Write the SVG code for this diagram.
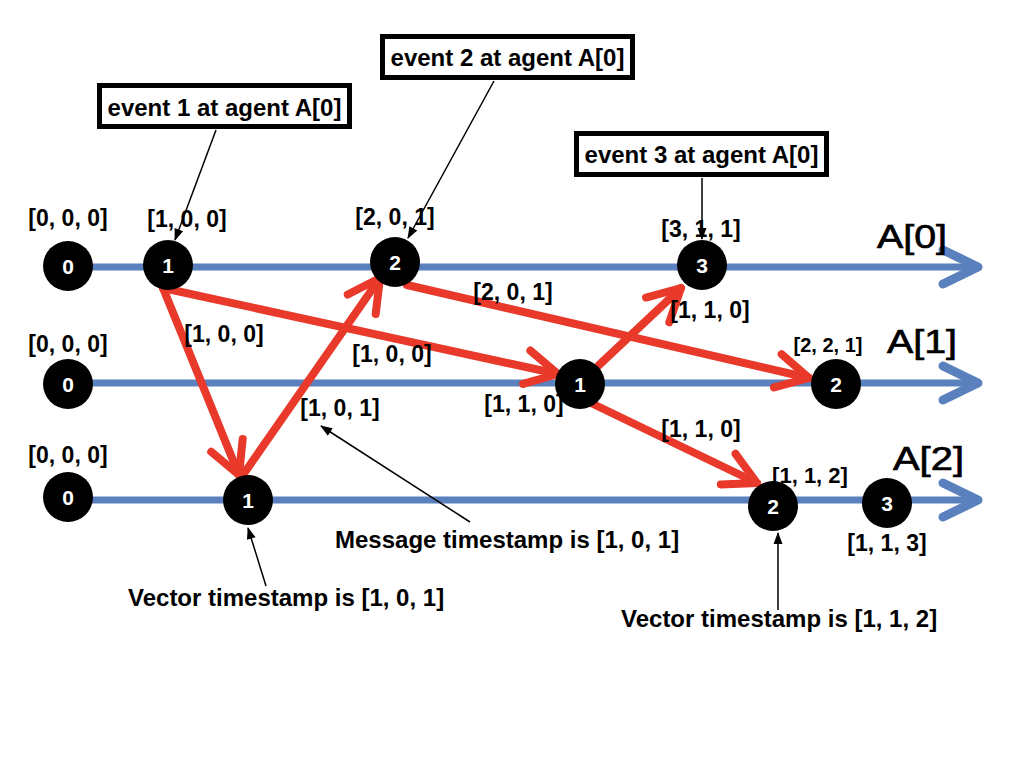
<svg xmlns="http://www.w3.org/2000/svg" width="1024" height="768" viewBox="0 0 1024 768">
<defs>
<style>
.tl{stroke:#5b80be;stroke-width:7;fill:none}
.msg{stroke:#e8392a;stroke-width:8;fill:none;stroke-linecap:round}
.ptr{stroke:#000;stroke-width:1.5;fill:none}
.node circle{fill:#000}
.node text{fill:#fff;font-family:"Liberation Sans",Arial,sans-serif;font-weight:bold;font-size:21px;text-anchor:middle}
.ts{font-family:"Liberation Sans",Arial,sans-serif;font-weight:bold;font-size:23px;fill:#000;text-anchor:middle}
.note{font-family:"Liberation Sans",Arial,sans-serif;font-weight:bold;font-size:24px;fill:#000}
.box rect{fill:#fff;stroke:#000;stroke-width:5}
.box text{font-family:"Liberation Sans",Arial,sans-serif;font-weight:bold;font-size:24px;fill:#000;text-anchor:middle}
.agent{font-family:"Liberation Sans",Arial,sans-serif;font-size:34px;fill:#000;stroke:#000;stroke-width:0.7}
</style>
<marker id="redHead" markerUnits="userSpaceOnUse" viewBox="-40 -24 48 48" markerWidth="48" markerHeight="48" refX="0" refY="0" orient="auto" overflow="visible">
<path d="M-32,-17 L0,0 L-32,17" fill="none" stroke="#e8392a" stroke-width="8" stroke-linecap="round" stroke-linejoin="round"/>
</marker>
<marker id="blueHead" markerUnits="userSpaceOnUse" viewBox="-44 -24 52 48" markerWidth="52" markerHeight="48" refX="0" refY="0" orient="auto" overflow="visible">
<path d="M-35,-17 L0,0 L-35,17" fill="none" stroke="#5b80be" stroke-width="9" stroke-linecap="round" stroke-linejoin="round"/>
</marker>
<marker id="blackHead" markerUnits="userSpaceOnUse" viewBox="-12 -6 14 12" markerWidth="14" markerHeight="12" refX="0" refY="0" orient="auto" overflow="visible">
<path d="M1,0 L-11,-4.5 L-11,4.5 z" fill="#000"/>
</marker>
</defs>
<rect width="1024" height="768" fill="#fff"/>

<g id="timelines">
<line class="tl" x1="68" y1="267" x2="978" y2="267" marker-end="url(#blueHead)"/>
<line class="tl" x1="68" y1="383" x2="978" y2="383" marker-end="url(#blueHead)"/>
<line class="tl" x1="68" y1="500" x2="978" y2="500" marker-end="url(#blueHead)"/>
</g>

<g id="connectors">
<line class="msg" x1="163" y1="288" x2="558" y2="374" marker-end="url(#redHead)"/>
<line class="msg" x1="163" y1="288" x2="239" y2="475" marker-end="url(#redHead)"/>
<line class="msg" x1="245" y1="472" x2="380" y2="278" marker-end="url(#redHead)"/>
<line class="msg" x1="407" y1="285" x2="809" y2="378" marker-end="url(#redHead)"/>
<line class="msg" x1="598" y1="366" x2="681" y2="288" marker-end="url(#redHead)"/>
<line class="msg" x1="591" y1="403" x2="757" y2="483" marker-end="url(#redHead)"/>
<line class="ptr" x1="216" y1="130" x2="175" y2="240" marker-end="url(#blackHead)"/>
<line class="ptr" x1="494" y1="81" x2="408" y2="238" marker-end="url(#blackHead)"/>
<line class="ptr" x1="702" y1="178" x2="702" y2="239" marker-end="url(#blackHead)"/>
<line class="ptr" x1="470" y1="522" x2="321" y2="426" marker-end="url(#blackHead)"/>
<line class="ptr" x1="266" y1="586" x2="248" y2="528" marker-end="url(#blackHead)"/>
<line class="ptr" x1="778" y1="610" x2="778" y2="533" marker-end="url(#blackHead)"/>
</g>

<g id="a0-e0" class="node"><circle cx="68" cy="266" r="25"/><text x="68" y="274">0</text></g>
<g id="a0-e1" class="node"><circle cx="168" cy="265" r="25"/><text x="168" y="273">1</text></g>
<g id="a0-e2" class="node"><circle cx="395" cy="262" r="25"/><text x="395" y="270">2</text></g>
<g id="a0-e3" class="node"><circle cx="702" cy="265" r="25"/><text x="702" y="273">3</text></g>
<g id="a1-e0" class="node"><circle cx="68" cy="384" r="25"/><text x="68" y="392">0</text></g>
<g id="a1-e1" class="node"><circle cx="580" cy="384" r="25"/><text x="580" y="392">1</text></g>
<g id="a1-e2" class="node"><circle cx="836" cy="384" r="25"/><text x="836" y="392">2</text></g>
<g id="a2-e0" class="node"><circle cx="68" cy="497" r="25"/><text x="68" y="505">0</text></g>
<g id="a2-e1" class="node"><circle cx="248" cy="500" r="25"/><text x="248" y="508">1</text></g>
<g id="a2-e2" class="node"><circle cx="773" cy="506" r="25"/><text x="773" y="514">2</text></g>
<g id="a2-e3" class="node"><circle cx="887" cy="503" r="25"/><text x="887" y="511">3</text></g>

<g id="box-event1" class="box"><rect x="99.5" y="85.5" width="250" height="41"/><text x="224.5" y="116">event 1 at agent A[0]</text></g>
<g id="box-event2" class="box"><rect x="382.5" y="36.5" width="250" height="41"/><text x="507.5" y="66">event 2 at agent A[0]</text></g>
<g id="box-event3" class="box"><rect x="576.5" y="133.5" width="250" height="41"/><text x="701.5" y="163">event 3 at agent A[0]</text></g>

<g id="agents">
<text class="agent" x="877" y="248" textLength="70" lengthAdjust="spacingAndGlyphs">A[0]</text>
<text class="agent" x="887" y="353" textLength="70" lengthAdjust="spacingAndGlyphs">A[1]</text>
<text class="agent" x="893" y="470" textLength="71" lengthAdjust="spacingAndGlyphs">A[2]</text>
</g>

<g id="timestamps">
<text class="ts" x="68" y="226">[0, 0, 0]</text>
<text class="ts" x="187" y="227">[1, 0, 0]</text>
<text class="ts" x="395" y="225">[2, 0, 1]</text>
<text class="ts" x="701" y="237">[3, 1, 1]</text>
<text class="ts" x="710" y="318">[1, 1, 0]</text>
<text class="ts" x="513" y="300">[2, 0, 1]</text>
<text class="ts" x="224" y="342">[1, 0, 0]</text>
<text class="ts" x="392" y="362">[1, 0, 0]</text>
<text class="ts" x="68" y="352">[0, 0, 0]</text>
<text class="ts" x="828" y="352" style="font-size:20px">[2, 2, 1]</text>
<text class="ts" x="524" y="412">[1, 1, 0]</text>
<text class="ts" x="340" y="416">[1, 0, 1]</text>
<text class="ts" x="701" y="437">[1, 1, 0]</text>
<text class="ts" x="68" y="463">[0, 0, 0]</text>
<text class="ts" x="810" y="483" style="font-size:22px">[1, 1, 2]</text>
<text class="ts" x="887" y="551">[1, 1, 3]</text>
</g>

<g id="notes">
<text class="note" x="335" y="548">Message timestamp is [1, 0, 1]</text>
<text class="note" x="128" y="606">Vector timestamp is [1, 0, 1]</text>
<text class="note" x="621" y="627">Vector timestamp is [1, 1, 2]</text>
</g>
</svg>
